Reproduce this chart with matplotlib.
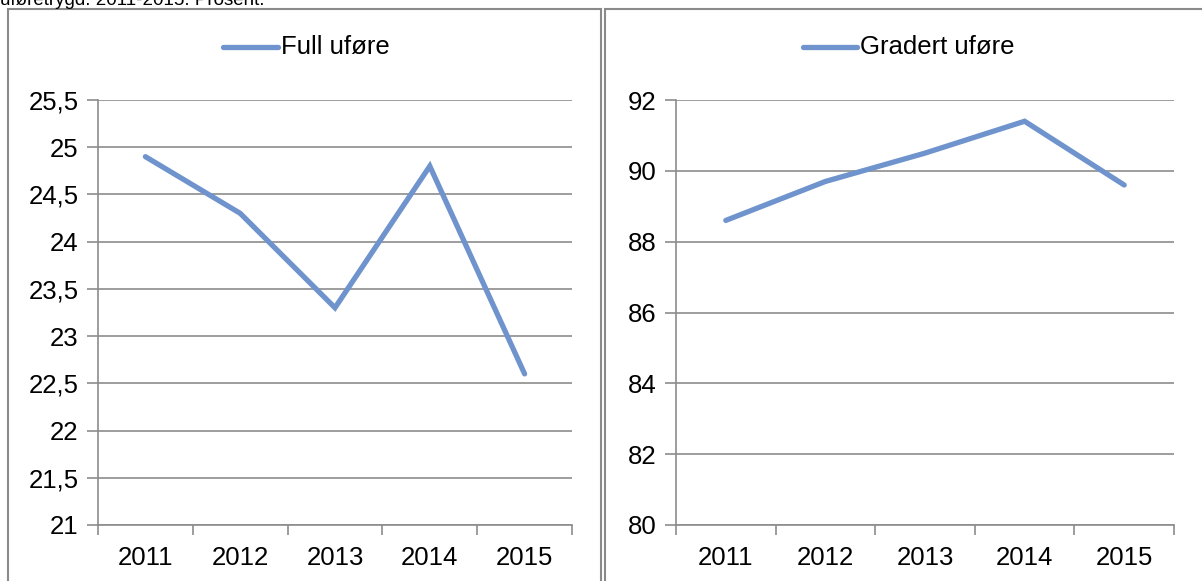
import matplotlib
matplotlib.use("Agg")
import matplotlib.pyplot as plt
from matplotlib.patches import Rectangle
from matplotlib.lines import Line2D

plt.rcParams['font.family'] = ['Liberation Sans', 'DejaVu Sans']

years = ["2011", "2012", "2013", "2014", "2015"]
full_ufore = [24.9, 24.3, 23.3, 24.8, 22.6]
gradert_ufore = [88.6, 89.7, 90.5, 91.4, 89.6]
left_ticks = [21, 21.5, 22, 22.5, 23, 23.5, 24, 24.5, 25, 25.5]
right_ticks = [80, 82, 84, 86, 88, 90, 92]
series_names = ["Full uføre", "Gradert uføre"]
caption = "uføretrygd. 2011-2015. Prosent."

W, H = 1202, 581
fig = plt.figure(figsize=(W / 100, H / 100), dpi=100)

line_color = '#6f93cc'
grid_color = '#8c8c8c'
fs = 18.5

def px(x0, y0, x1, y1):
    return [x0 / W, 1 - y1 / H, (x1 - x0) / W, (y1 - y0) / H]

# panel borders
fig.patches.append(Rectangle((8 / W, -0.1), (601 - 8) / W, 1.1 - 9 / H,
                             transform=fig.transFigure, fill=False,
                             edgecolor='#8a8a8a', lw=1.5))
fig.patches.append(Rectangle((605 / W, -0.1), (1210 - 605) / W, 1.1 - 9 / H,
                             transform=fig.transFigure, fill=False,
                             edgecolor='#8a8a8a', lw=1.5))

fig.text(0.0, 1 - 5 / H, caption, fontsize=13.5, va='baseline', ha='left')

def make(ax, vals, ticks, label, fmt, legend_x):
    x = list(range(len(years)))
    ax.plot(x, vals, color=line_color, lw=3.8, solid_capstyle='round',
            solid_joinstyle='miter', zorder=3)
    ax.set_xlim(-0.5, len(years) - 0.5)
    ax.set_ylim(ticks[0], ticks[-1])
    ax.set_yticks(ticks)
    ax.set_yticklabels([fmt(t) for t in ticks], fontsize=fs)
    ax.set_xticks(x)
    ax.set_xticklabels(years, fontsize=fs)
    ax.tick_params(axis='x', length=0, pad=15)
    ax.set_xticks([i - 0.5 for i in range(len(years) + 1)], minor=True)
    ax.tick_params(axis='x', which='minor', length=7, color=grid_color, width=1.2)
    ax.tick_params(axis='y', length=8, color=grid_color, width=1.2, pad=6)
    ax.grid(axis='y', color=grid_color, lw=1.2, zorder=1)
    for s in ['top', 'right']:
        ax.spines[s].set_visible(False)
    for s in ['left', 'bottom']:
        ax.spines[s].set_color(grid_color)
        ax.spines[s].set_linewidth(1.2)
    ax.set_facecolor('none')
    # legend entry
    lx0, lx1, ly = legend_x
    fig.add_artist(Line2D([lx0 / W, lx1 / W], [1 - ly / H, 1 - ly / H],
                          transform=fig.transFigure, color=line_color, lw=3.8,
                          solid_capstyle='round'))
    fig.text((lx1 + 3) / W, 1 - ly / H, label, fontsize=fs, va='center', ha='left')

def fmt_left(t):
    return ('%g' % t).replace('.', ',')

ax1 = fig.add_axes(px(98, 100, 572, 525))
make(ax1, full_ufore, left_ticks, series_names[0], fmt_left, (223, 278, 47))

ax2 = fig.add_axes(px(676, 100, 1174, 525))
make(ax2, gradert_ufore, right_ticks, series_names[1], lambda t: '%d' % t, (803, 857, 47))

fig.savefig('out.png', dpi=100)
